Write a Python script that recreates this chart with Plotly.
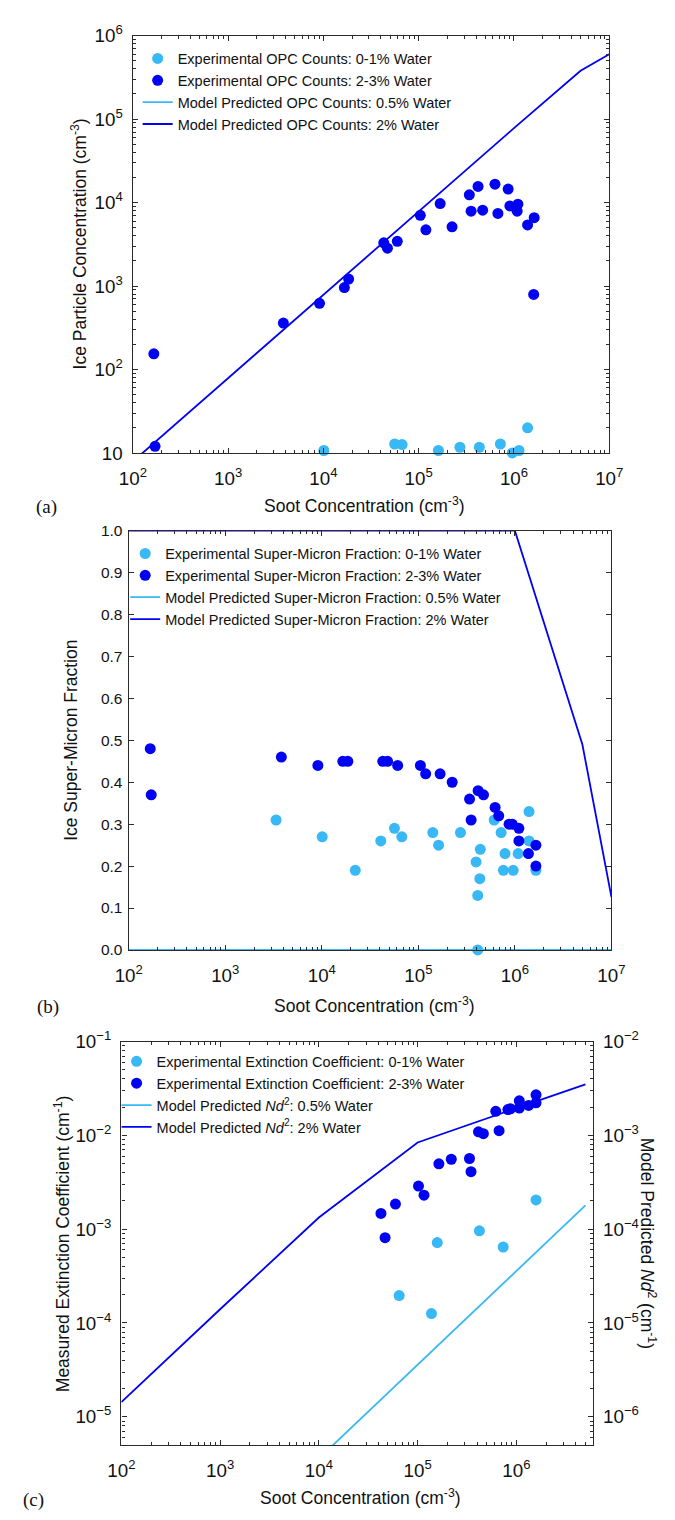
import plotly.graph_objects as go
import math

# ---------------- data ----------------
# Panel (a): ice particle concentration vs soot concentration
a_light_x = [1.01e4, 5.6e4, 6.7e4, 1.61e5, 2.71e5, 4.33e5, 7.2e5, 9.6e5, 1.13e6, 1.39e6]
a_light_y = [10.7, 12.8, 12.6, 10.7, 11.7, 11.7, 12.8, 10.0, 10.7, 20.0]
a_dark_x = [166, 171, 3.8e3, 9.1e3, 1.66e4, 1.84e4, 4.3e4, 4.7e4, 5.96e4, 1.04e5, 1.19e5,
            1.68e5, 2.24e5, 3.4e5, 3.55e5, 4.2e5, 4.69e5, 6.32e5, 6.78e5, 8.69e5, 9.06e5,
            1.08e6, 1.1e6, 1.39e6, 1.61e6, 1.63e6]
a_dark_y = [154, 12, 360, 620, 957, 1210, 3290, 2840, 3430, 7030, 4710,
            9730, 5120, 12400, 7890, 15600, 8110, 16600, 7410, 14500, 9120,
            7890, 9550, 5400, 793, 6580]
a_model_x = [1e2, 1e3, 1e4, 1e5, 1e6, 5e6, 1e7]
a_model_05 = [0, 0, 0, 0, 0, 0, 0]
a_model_2 = [7.9, 79, 790, 7900, 7.8e4, 3.8e5, 6.0e5]

# Panel (b): ice super-micron fraction
b_light_x = [3.36e3, 1.01e4, 2.22e4, 4.08e4, 5.65e4, 6.74e4, 1.41e5, 1.62e5, 2.73e5, 3.96e5,
             4.38e5, 4.33e5, 4.12e5, 4.12e5, 6.1e5, 7.2e5, 7.9e5, 7.6e5, 9.6e5, 1.08e6,
             1.4e6, 1.4e6, 1.65e6]
b_light_y = [0.31, 0.27, 0.19, 0.26, 0.29, 0.27, 0.28, 0.25, 0.28, 0.21,
             0.24, 0.17, 0.13, 0.0, 0.31, 0.28, 0.23, 0.19, 0.19, 0.23,
             0.33, 0.26, 0.19]
b_dark_x = [167, 171, 3.81e3, 9.1e3, 1.65e4, 1.86e4, 4.28e4, 4.8e4, 6.1e4, 1.05e5, 1.19e5,
            1.68e5, 2.24e5, 3.39e5, 3.52e5, 4.16e5, 4.73e5, 6.24e5, 6.8e5, 8.7e5, 9.4e5,
            1.1e6, 1.1e6, 1.38e6, 1.65e6, 1.65e6]
b_dark_y = [0.48, 0.37, 0.46, 0.44, 0.45, 0.45, 0.45, 0.45, 0.44, 0.44, 0.42,
            0.42, 0.40, 0.36, 0.31, 0.38, 0.37, 0.34, 0.32, 0.30, 0.30,
            0.29, 0.26, 0.23, 0.25, 0.20]
b_model_x = [1e2, 1e3, 1e4, 1e5, 1e6, 5e6, 1e7]
b_model_05 = [0, 0, 0, 0, 0, 0, 0]
b_model_2 = [1.0, 1.0, 1.0, 1.0, 1.0, 0.49, 0.126]

# Panel (c): extinction coefficient (left axis) and model Nd^2 (right axis)
c_light_x = [6.5e4, 1.38e5, 1.58e5, 4.22e5, 7.35e5, 1.58e6]
c_light_y = [1.96e-4, 1.26e-4, 7.2e-4, 9.6e-4, 6.45e-4, 2.05e-3]
c_dark_x = [4.25e4, 4.68e4, 5.96e4, 1.02e5, 1.16e5, 1.64e5, 2.19e5, 3.35e5, 3.47e5, 4.13e5,
            4.63e5, 6.18e5, 6.68e5, 8.2e5, 8.7e5, 1.07e6, 1.07e6, 1.33e6, 1.58e6, 1.58e6]
c_dark_y = [1.47e-3, 8.1e-4, 1.85e-3, 2.88e-3, 2.3e-3, 4.97e-3, 5.56e-3, 5.66e-3, 4.1e-3, 1.09e-2,
            1.04e-2, 1.8e-2, 1.12e-2, 1.88e-2, 1.92e-2, 2.33e-2, 1.95e-2, 2.08e-2, 2.7e-2, 2.22e-2]
c_model_x = [1e2, 1e3, 1e4, 1e5, 1e6, 5e6]
c_model_05 = [3.6e-9, 3.6e-8, 3.6e-7, 3.6e-6, 3.6e-5, 1.79e-4]
c_model_2 = [1.43e-6, 1.4e-5, 1.33e-4, 8.4e-4, 1.95e-3, 3.5e-3]

# ---------------- style ----------------
W, H = 675, 1520
LIGHT = "#38B8F5"
DARK = "#0202F2"
AXC = "#2a2a2a"
SANS = "Liberation Sans, Arial, sans-serif"
SERIF = "Liberation Serif, Times New Roman, serif"
MS = 11
LW = 1.8


def fx(p):
    return p / W


def fy(p):
    return 1 - p / H


fig = go.Figure()


def add_panel(xa, ya, lg, lx, ly, dx, dy, lxx, lyy, names, lines_yaxis=None):
    yl = lines_yaxis or ya
    fig.add_trace(go.Scatter(x=lxx[0], y=lyy[0], mode="lines", name=names[2],
                             line=dict(color=LIGHT, width=LW), xaxis=xa, yaxis=yl,
                             legend=lg, legendrank=3))
    fig.add_trace(go.Scatter(x=lxx[1], y=lyy[1], mode="lines", name=names[3],
                             line=dict(color=DARK, width=LW), xaxis=xa, yaxis=yl,
                             legend=lg, legendrank=4))
    fig.add_trace(go.Scatter(x=lx, y=ly, mode="markers", name=names[0],
                             marker=dict(color=LIGHT, size=MS), xaxis=xa, yaxis=ya,
                             cliponaxis=False, legend=lg, legendrank=1))
    fig.add_trace(go.Scatter(x=dx, y=dy, mode="markers", name=names[1],
                             marker=dict(color=DARK, size=MS), xaxis=xa, yaxis=ya,
                             cliponaxis=False, legend=lg, legendrank=2))


add_panel("x", "y", "legend", a_light_x, a_light_y, a_dark_x, a_dark_y,
          (a_model_x, a_model_x), (a_model_05, a_model_2),
          ["Experimental OPC Counts: 0-1% Water", "Experimental OPC Counts: 2-3% Water",
           "Model Predicted OPC Counts: 0.5% Water", "Model Predicted OPC Counts: 2% Water"])
add_panel("x2", "y2", "legend2", b_light_x, b_light_y, b_dark_x, b_dark_y,
          (b_model_x, b_model_x), (b_model_05, b_model_2),
          ["Experimental Super-Micron Fraction: 0-1% Water",
           "Experimental Super-Micron Fraction: 2-3% Water",
           "Model Predicted Super-Micron Fraction: 0.5% Water",
           "Model Predicted Super-Micron Fraction: 2% Water"])
add_panel("x3", "y3", "legend3", c_light_x, c_light_y, c_dark_x, c_dark_y,
          (c_model_x, c_model_x), (c_model_05, c_model_2),
          ["Experimental Extinction Coefficient: 0-1% Water",
           "Experimental Extinction Coefficient: 2-3% Water",
           "Model Predicted <i>Nd</i><sup>2</sup>: 0.5% Water",
           "Model Predicted <i>Nd</i><sup>2</sup>: 2% Water"],
          lines_yaxis="y4")

tickfont = dict(family=SANS, size=15, color="#111")
minor = dict(ticks="inside", ticklen=3, tickwidth=1, tickcolor=AXC, dtick="D1", showgrid=False)


def log_axis(rng, dom, anchor, mirror="ticks", **kw):
    d = dict(type="log", range=rng, domain=dom, anchor=anchor, dtick=1,
             exponentformat="power", showline=True, linecolor=AXC, linewidth=1.3,
             mirror=mirror, ticks="inside", ticklen=5, tickwidth=1, tickcolor=AXC,
             showgrid=False, zeroline=False, tickfont=tickfont, minor=minor)
    d.update(kw)
    return d


XSTAND = 9
YSTAND = 6

fig.update_layout(
    width=W, height=H, margin=dict(l=0, r=0, t=0, b=0),
    paper_bgcolor="white", plot_bgcolor="white",
    font=dict(family=SANS, color="#111"),
    xaxis=log_axis([2, 7], [fx(124), fx(621)], "y", ticklabelstandoff=XSTAND),
    yaxis=log_axis([1, 6], [fy(447), fy(23)], "x", ticklabelstandoff=YSTAND),
    xaxis2=log_axis([2, 7], [fx(119.7), fx(623.3)], "y2", ticklabelstandoff=XSTAND),
    yaxis2=dict(range=[0, 1], domain=[fy(952), fy(526)], anchor="x2", dtick=0.1,
                tickformat=".1f", showline=True, linecolor=AXC, linewidth=1.3,
                mirror="ticks", ticks="inside", ticklen=5, tickwidth=1, tickcolor=AXC,
                showgrid=False, zeroline=False, ticklabelstandoff=2,
                tickfont=dict(family=SANS, size=15.5, color="#111"),
                layer="below traces"),
    xaxis3=log_axis([2, 6.775], [fx(112), fx(604)], "y3", ticklabelstandoff=XSTAND),
    yaxis3=log_axis([math.log10(5e-6), -1], [fy(1455), fy(1045)], "x3", mirror=True,
                    ticklabelstandoff=YSTAND),
    yaxis4=log_axis([math.log10(5e-7), -2], [fy(1455), fy(1045)], "x3", mirror=False,
                    overlaying="y3", side="right", ticklabelstandoff=YSTAND),
    legend=dict(x=fx(129), y=fy(30), xanchor="left", yanchor="top",
                font=dict(family=SANS, size=14.5, color="#111"), bgcolor="rgba(0,0,0,0)",
                tracegroupgap=0),
    legend2=dict(x=fx(116), y=fy(533), xanchor="left", yanchor="top",
                 font=dict(family=SANS, size=14.5, color="#111"), bgcolor="rgba(0,0,0,0)",
                 tracegroupgap=0),
    legend3=dict(x=fx(107), y=fy(1049), xanchor="left", yanchor="top",
                 font=dict(family=SANS, size=14.5, color="#111"), bgcolor="rgba(0,0,0,0)",
                 tracegroupgap=0),
)

title_font = dict(family=SANS, size=17.5, color="#111")
label_font = dict(family=SERIF, size=19, color="#111")
ann = [
    # panel (a)
    dict(text="Ice Particle Concentration (cm<sup>-3</sup>)", x=fx(68), y=fy(235), textangle=-90,
         font=title_font),
    dict(text="Soot Concentration (cm<sup>-3</sup>)", x=fx(366), y=fy(500), font=title_font),
    dict(text="(a)", x=fx(34), y=fy(502), font=label_font),
    # panel (b)
    dict(text="Ice Super-Micron Fraction", x=fx(60), y=fy(739), textangle=-90, font=title_font),
    dict(text="Soot Concentration (cm<sup>-3</sup>)", x=fx(376), y=fy(1008), font=title_font),
    dict(text="(b)", x=fx(35), y=fy(1010), font=label_font),
    # panel (c)
    dict(text="Measured Extinction Coefficient (cm<sup>-1</sup>)", x=fx(50), y=fy(1250),
         textangle=-90, font=title_font),
    dict(text="Model Predicted <i>Nd</i><sup>2</sup> (cm<sup>-1</sup>)", x=fx(661), y=fy(1250),
         textangle=90, font=title_font),
    dict(text="Soot Concentration (cm<sup>-3</sup>)", x=fx(362), y=fy(1508), font=title_font),
    dict(text="(c)", x=fx(20), y=fy(1511), font=label_font),
]
for a in ann:
    a.update(xref="paper", yref="paper", showarrow=False, xanchor="center", yanchor="middle")
fig.update_layout(annotations=ann)

fig.write_html("out.html")
